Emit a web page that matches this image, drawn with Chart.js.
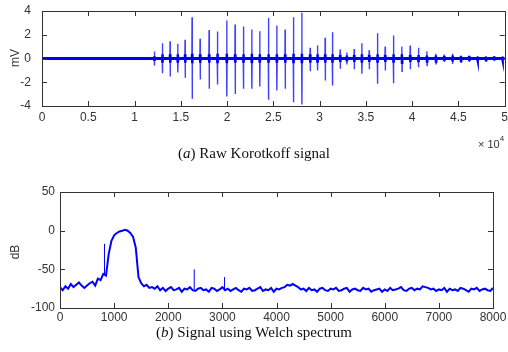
<!DOCTYPE html>
<html><head><meta charset="utf-8">
<script src="https://cdn.jsdelivr.net/npm/chart.js@4.4.0/dist/chart.umd.min.js"></script>
<style>
body{margin:0;background:#fff;width:508px;height:352px;overflow:hidden;position:relative;font-family:"Liberation Sans",Arial,sans-serif}
canvas{position:absolute;left:0}
.cap{position:absolute;left:0;width:508px;text-align:center;font-family:"Liberation Serif","Times New Roman",serif;font-size:15px;line-height:18px;color:#111}
.rot{position:absolute;transform:translate(-50%,-50%) rotate(-90deg);font-size:12px;line-height:14px;color:#333;white-space:nowrap}
.exp{position:absolute;left:478px;top:134px;font-size:11px;line-height:14px;color:#333;white-space:nowrap}
.exp sup{font-size:8px;position:relative;top:-2px}
</style></head><body>
<canvas id="c1" width="508" height="135" style="top:0"></canvas>
<canvas id="c2" width="508" height="160" style="top:170px"></canvas>
<div class="rot" style="left:15px;top:58px">mV</div>
<div class="rot" style="left:15px;top:252px">dB</div>
<div class="exp">× 10<sup>4</sup></div>
<div class="cap" style="top:144px">(<i>a</i>) Raw Korotkoff signal</div>
<div class="cap" style="top:323px">(<i>b</i>) Signal using Welch spectrum</div>
<script>
// ---- (a) Raw Korotkoff signal ----
const sigXTicks = [0, 5000, 10000, 15000, 20000, 25000, 30000, 35000, 40000, 45000, 50000];
const sigYTicks = [-4, -2, 0, 2, 4];
const beatPos  = [12141, 13006, 13838, 14667, 15459, 16216, 17081, 18054, 18955, 19964, 20865, 21765, 22670,
                  23530, 24470, 25373, 26270, 27170, 28076, 28973, 29766, 30595, 31384, 32216, 32937, 33730,
                  34560, 35351, 36250, 37081, 37980, 38886, 39784, 40680, 41590, 42560, 43460, 44360, 45265,
                  46160, 47060, 47965, 48865, 49760];
const beatUp   = [0.6, 1.29, 1.46, 1.25, 1.57, 3.48, 1.66, 2.41, 2.27, 3.2, 2.86, 2.69, 2.44,
                  2.3, 3.42, 2.78, 2.44, 3.48, 3.85, 0.9, 1.1, 1.74, 2.21, 0.76, 0.5, 0.8,
                  1.29, 0.7, 2.13, 1.0, 1.94, 1.0, 1.1, 0.9, 0.6, 0.4, 0.34, 0.4, 0.25,
                  0.25, 0.22, 0.2, 0.2, 0.18];
const beatDown = [0.6, 1.24, 1.52, 1.18, 1.63, 3.4, 1.77, 2.55, 2.19, 3.2, 2.98, 2.55, 2.55,
                  2.36, 3.48, 2.69, 2.55, 3.68, 3.87, 1.07, 1.0, 1.85, 2.27, 0.87, 0.5, 0.9,
                  1.29, 0.9, 2.13, 1.0, 2.08, 1.07, 0.9, 0.74, 0.6, 0.45, 0.3, 0.45, 0.3,
                  0.3, 0.22, 0.2, 0.2, 0.18];
const beatCore = [0.2, 0.35, 0.35, 0.35, 0.35, 0.4, 0.35, 0.35, 0.4, 0.4, 0.35, 0.35, 0.4,
                  0.35, 0.35, 0.35, 0.35, 0.4, 0.4, 0.35, 0.35, 0.35, 0.35, 0.3, 0.25, 0.3,
                  0.35, 0.3, 0.35, 0.3, 0.35, 0.35, 0.3, 0.3, 0.25, 0.25, 0.2, 0.25, 0.2,
                  0.2, 0.15, 0.15, 0.15, 0.15];

// ---- (b) Welch spectrum ----
const specStep = 50; // Hz between readings
const specDb = [
 -73,-77,-72,-75,-69,-73,-70,-67,-71,-74,-71,-68,-66,-71,-62,-64,-56,-58,-30,-13,
 -6,-3,-1,0,1,0,-3,-8,-22,-60,-68,-72,-70,-74,-73,-75,-72,-77,-74,-78,
 -75,-73,-77,-76,-74,-79,-75,-76,-73,-77,-78,-75,-74,-77,-76,-79,-74,-75,-78,-76,
 -73,-77,-75,-78,-76,-74,-77,-79,-75,-76,-74,-78,-77,-75,-73,-78,-76,-77,-74,-79,
 -75,-76,-74,-73,-70,-71,-69,-71,-73,-76,-75,-78,-74,-77,-76,-79,-75,-74,-77,-78,
 -75,-76,-74,-78,-77,-75,-74,-79,-76,-75,-77,-78,-74,-76,-75,-79,-77,-76,-75,-79,
 -76,-78,-74,-77,-76,-75,-73,-77,-78,-75,-74,-77,-75,-76,-72,-73,-74,-76,-75,-78,
 -76,-77,-74,-79,-75,-77,-76,-78,-74,-75,-77,-79,-75,-76,-74,-78,-76,-75,-77,-78,-74
];
const spurFreq = [822, 2480, 3040];
const spurDb = [-17, -50, -60];
const specXTicks = [0, 1000, 2000, 3000, 4000, 5000, 6000, 7000, 8000];
const specYTicks = [-100, -50, 0, 50];

// build series
const baseline = [{x: 0, y: 0}, {x: 50000, y: 0}];
const spikes = [{x: 0, y: 0}];
const cores = [{x: 0, y: 0}];
beatPos.forEach((p, i) => {
  spikes.push({x: p - 20, y: 0}, {x: p, y: beatUp[i]}, {x: p + 20, y: -beatDown[i]}, {x: p + 40, y: 0});
  cores.push({x: p - 20, y: 0}, {x: p, y: beatCore[i]}, {x: p + 20, y: -beatCore[i]}, {x: p + 40, y: 0});
});
spikes.push({x: 50000, y: 0});
cores.push({x: 50000, y: 0});

const spec = specDb.map((v, i) => ({x: i * specStep, y: v}));
const spurs = [];
spurFreq.forEach((f, k) => {
  const near = specDb[Math.round(f / specStep)];
  spurs.push({x: f, y: near}, {x: f, y: spurDb[k]}, {x: f + 1, y: null});
});

const boxTicks = {
  id: 'boxTicks',
  afterDraw(chart, args, opts) {
    const {ctx, chartArea: a, scales: {x, y}} = chart;
    const L = 5;
    ctx.save();
    ctx.strokeStyle = '#333';
    ctx.lineWidth = 1;
    ctx.beginPath();
    opts.xt.forEach(v => {
      const px = Math.round(x.getPixelForValue(v)) + 0.5;
      ctx.moveTo(px, a.bottom); ctx.lineTo(px, a.bottom - L);
      ctx.moveTo(px, a.top); ctx.lineTo(px, a.top + L);
    });
    opts.yt.forEach(v => {
      const py = Math.round(y.getPixelForValue(v)) + 0.5;
      ctx.moveTo(a.left, py); ctx.lineTo(a.left + L, py);
      ctx.moveTo(a.right, py); ctx.lineTo(a.right - L, py);
    });
    ctx.stroke();
    ctx.strokeRect(Math.round(a.left) + 0.5, Math.round(a.top) + 0.5,
                   Math.round(a.right) - Math.round(a.left), Math.round(a.bottom) - Math.round(a.top));
    ctx.restore();
  }
};

function makeOpts(cfg) {
  return {
    responsive: false, animation: false, events: [],
    layout: {padding: cfg.pad},
    plugins: {legend: {display: false}, tooltip: {enabled: false}, boxTicks: {xt: cfg.xt, yt: cfg.yt}},
    scales: {
      x: {
        type: 'linear', min: cfg.xt[0], max: cfg.xt[cfg.xt.length - 1],
        grid: {display: false, drawTicks: true, tickLength: cfg.xpad}, border: {display: false},
        afterBuildTicks: s => { s.ticks = cfg.xt.map(v => ({value: v})); },
        afterFit: s => { s.height = cfg.xh; },
        ticks: {padding: 0, color: '#333', font: {family: 'Liberation Sans', size: 12},
                maxRotation: 0, autoSkip: false, callback: cfg.xcb}
      },
      y: {
        type: 'linear', min: cfg.yt[0], max: cfg.yt[cfg.yt.length - 1],
        grid: {display: false, drawTicks: true, tickLength: cfg.ypad}, border: {display: false},
        afterBuildTicks: s => { s.ticks = cfg.yt.map(v => ({value: v})); },
        afterFit: s => { s.width = cfg.yw; },
        ticks: {padding: 0, color: '#333', font: {family: 'Liberation Sans', size: 12}, autoSkip: false}
      }
    }
  };
}

new Chart(document.getElementById('c1'), {
  type: 'line',
  data: {datasets: [
    {data: cores, borderColor: '#0000ee', borderWidth: 2.5, pointRadius: 0, tension: 0},
    {data: baseline, borderColor: '#0000ff', borderWidth: 3, pointRadius: 0, tension: 0},
    {data: spikes, borderColor: 'rgba(0,0,255,0.75)', borderWidth: 1.4, pointRadius: 0, tension: 0}
  ]},
  options: makeOpts({pad: {top: 11, right: 3, left: 0, bottom: 0}, xt: sigXTicks, yt: sigYTicks,
                     xh: 29, yw: 42, xpad: 4, ypad: 11, xcb: v => String(v / 10000)}),
  plugins: [boxTicks]
});

new Chart(document.getElementById('c2'), {
  type: 'line',
  data: {datasets: [
    {data: spurs, borderColor: '#0000ff', borderWidth: 1, pointRadius: 0, tension: 0, spanGaps: false},
    {data: spec, borderColor: '#0000ff', borderWidth: 2, pointRadius: 0, tension: 0}
  ]},
  options: makeOpts({pad: {top: 22, right: 15, left: 0, bottom: 0}, xt: specXTicks, yt: specYTicks,
                     xh: 22, yw: 60, xpad: 2, ypad: 5, xcb: v => String(v)}),
  plugins: [boxTicks]
});
</script>
</body></html>
